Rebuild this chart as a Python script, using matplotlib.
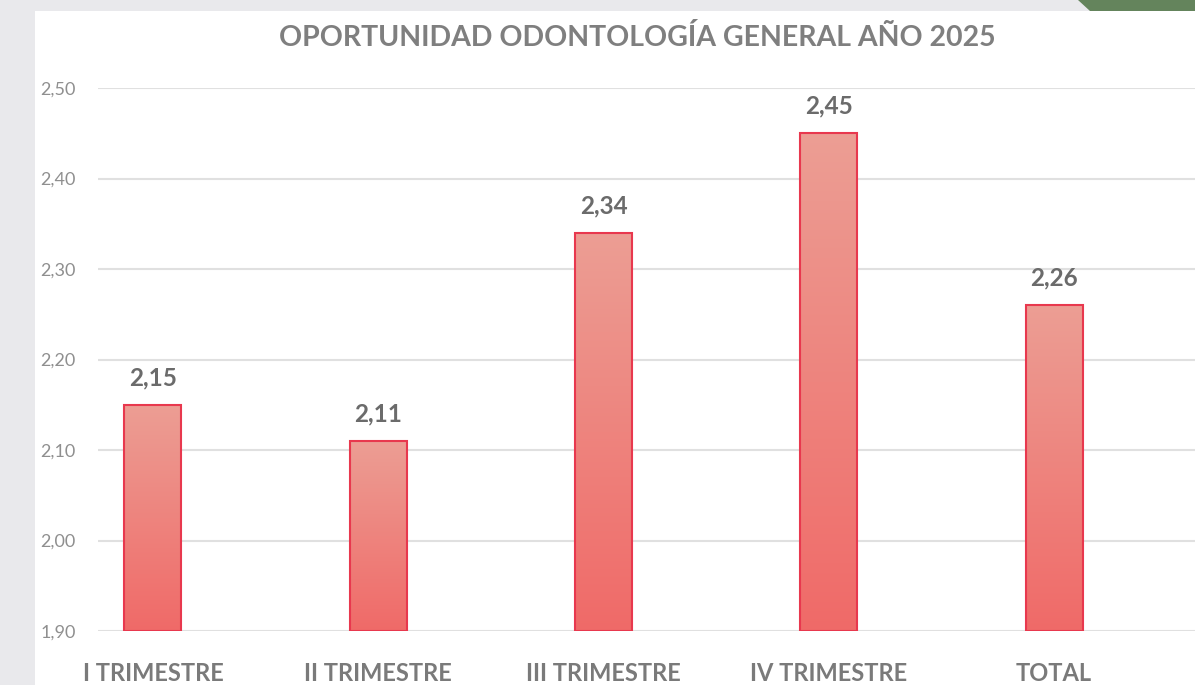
import matplotlib
matplotlib.use("Agg")
import matplotlib.pyplot as plt
import numpy as np
from matplotlib.patches import Rectangle, Polygon
from matplotlib.colors import LinearSegmentedColormap
from matplotlib.ticker import FuncFormatter

# datos de oportunidad (dias) por trimestre
categorias = ["I TRIMESTRE", "II TRIMESTRE", "III TRIMESTRE", "IV TRIMESTRE", "TOTAL"]
valores = [2.15, 2.11, 2.34, 2.45, 2.26]
ticks_y = [1.90, 2.00, 2.10, 2.20, 2.30, 2.40, 2.50]
titulo = "OPORTUNIDAD ODONTOLOGÍA GENERAL AÑO 2025"

plt.rcParams['font.family'] = ['Lato', 'DejaVu Sans']

fig = plt.figure(figsize=(11.95, 6.85), dpi=100)
fig.patch.set_facecolor('#e9e9ec')

# fondo: panel blanco y detalle verde arriba a la derecha
fig.patches.append(Rectangle((35 / 1195, 0), 1, 1 - 11 / 685, transform=fig.transFigure,
                             facecolor='white', edgecolor='none', zorder=-10))
fig.patches.append(Polygon([(1078 / 1195, 1), (1 + 0.01, 1), (1 + 0.01, 1 - 11 / 685),
                            (1090 / 1195, 1 - 11 / 685)], closed=True,
                           transform=fig.transFigure, facecolor='#64845c',
                           edgecolor='none', zorder=-10))

ax = fig.add_axes([98 / 1195, 1 - 631 / 685, 1 - 98 / 1195, (631 - 88) / 685])
ax.set_facecolor('none')

x = np.arange(len(categorias))
ancho = 0.253
cmap = LinearSegmentedColormap.from_list('barra', ['#f06a68', '#ec9e94'])
grad = np.linspace(0, 1, 256).reshape(-1, 1)

for xi, v in zip(x, valores):
    rect = Rectangle((xi - ancho / 2, 1.90), ancho, v - 1.90, facecolor='none',
                     edgecolor='#e8384e', linewidth=1.5, zorder=3)
    ax.add_patch(rect)
    img = ax.imshow(grad, extent=(xi - ancho / 2, xi + ancho / 2, 1.90, v), origin='lower',
                    cmap=cmap, aspect='auto', zorder=2)
    img.set_clip_path(rect)
    ax.text(xi, v + 0.017, f"{v:.2f}".replace('.', ','), ha='center', va='bottom',
            fontsize=17.5, fontweight='bold', color='#6b6b6b')

ax.set_xlim(-0.244, 4.625)
ax.set_ylim(1.90, 2.50)
ax.set_yticks(ticks_y)
ax.yaxis.set_major_formatter(FuncFormatter(lambda v, p: f"{v:.2f}".replace('.', ',')))
ax.grid(axis='y', color='#e0e0e0', linewidth=1.5, zorder=0)
ax.set_axisbelow(True)
for s in ax.spines.values():
    s.set_visible(False)
ax.tick_params(axis='y', length=0, pad=16, labelsize=13, labelcolor='#8f8f8f')
ax.tick_params(axis='x', length=0, pad=22)
ax.set_xticks(x)
ax.set_xticklabels(categorias, fontsize=17, fontweight='bold', color='#7a7a7a')

fig.text(637 / 1195, 1 - 37 / 685, titulo, ha='center', va='center', fontsize=20.5,
         fontweight='bold', color='#7f7f7f')

fig.savefig('out.png', dpi=100, facecolor=fig.get_facecolor())
